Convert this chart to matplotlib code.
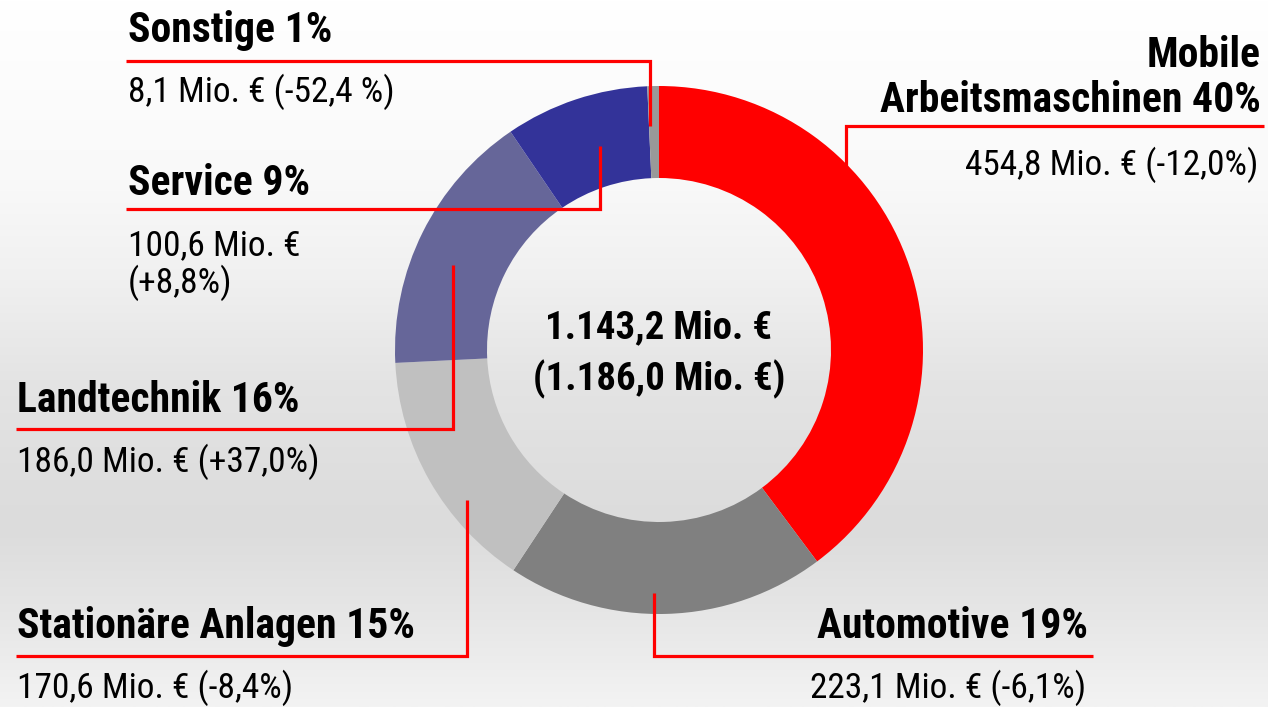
import numpy as np
import matplotlib
matplotlib.use("Agg")
import matplotlib.pyplot as plt
from matplotlib import font_manager

# segment data (clockwise from 12 o'clock)
segments = ["Mobile Arbeitsmaschinen", "Automotive", "Stationäre Anlagen",
            "Landtechnik", "Service", "Sonstige"]
umsatz = [454.8, 223.1, 170.6, 186.0, 100.6, 8.1]
anteil = ["40%", "19%", "15%", "16%", "9%", "1%"]
veraenderung = ["(-12,0%)", "(-6,1%)", "(-8,4%)", "(+37,0%)", "(+8,8%)", "(-52,4 %)"]
farben = ["#ff0000", "#808080", "#c0c0c0", "#666699", "#333399", "#999999"]
gesamt = "1.143,2 Mio. €"
vorjahr = "(1.186,0 Mio. €)"

W, H = 1268, 707

names = {f.name for f in font_manager.fontManager.ttflist}
if "Roboto Condensed" in names:
    fam = ["Roboto Condensed", "DejaVu Sans"]
    fs_b, fs_r, fs_c = 30, 25.5, 28
else:
    fam = [f for f in ["Liberation Sans", "DejaVu Sans"] if f in names]
    fs_b, fs_r, fs_c = 25, 22, 24
plt.rcParams["font.family"] = fam

fig = plt.figure(figsize=(W / 100, H / 100), dpi=100)
ax = fig.add_axes([0, 0, 1, 1])

# background gradient
ys = np.linspace(0, H, 400)
g = np.interp(ys, [0, 180, 280, 380, 480, 530, 613, H],
              [255, 249, 240, 228, 222, 220, 230, 243]) / 255
bg = np.repeat(g[:, None], 2, axis=1)
ax.imshow(np.dstack([bg, bg, bg]), extent=[0, W, 0, H], origin="upper",
          aspect="auto", zorder=0)

def Y(y):
    return H - y

cx, cy, r_out, ring = 659, 350, 264, 92
ax.pie(umsatz, colors=farben, startangle=90, counterclock=False,
       center=(cx, Y(cy)), radius=r_out,
       wedgeprops=dict(width=ring, linewidth=0), frame=False)

ax.set_xlim(0, W)
ax.set_ylim(0, H)
ax.set_aspect("auto")
ax.axis("off")

red = "#ff0000"
lw = 2.3
# leader lines (pixel coords)
leaders = [
    [(846, 167), (846, 126), (1264, 126)],   # Mobile
    [(654, 593), (654, 656), (1093, 656)],   # Automotive
    [(467, 500), (467, 656), (16, 656)],     # Stationaere
    [(453, 265), (453, 429), (16, 429)],     # Landtechnik
    [(600, 146), (600, 209), (126, 209)],    # Service
    [(650, 126), (650, 61), (126, 61)],      # Sonstige
]
for pts in leaders:
    xs = [p[0] for p in pts]
    yy = [Y(p[1]) for p in pts]
    ax.plot(xs, yy, color=red, lw=lw, solid_capstyle="butt",
            solid_joinstyle="miter", zorder=3)

def titel(i):
    return f"{segments[i]} {anteil[i]}"

def wert(i):
    return f"{umsatz[i]:.1f}".replace(".", ",") + " Mio. €"

# Mobile Arbeitsmaschinen (right, two-line title)
ax.text(1261, Y(67), "Mobile", ha="right", va="baseline", fontsize=fs_b, fontweight="bold")
ax.text(1261, Y(112), "Arbeitsmaschinen " + anteil[0], ha="right", va="baseline",
        fontsize=fs_b, fontweight="bold")
ax.text(1258, Y(175), wert(0) + " " + veraenderung[0], ha="right", va="baseline", fontsize=fs_r)

# Automotive
ax.text(1088, Y(638), titel(1), ha="right", va="baseline", fontsize=fs_b, fontweight="bold")
ax.text(1086, Y(698), wert(1) + " " + veraenderung[1], ha="right", va="baseline", fontsize=fs_r)

# Stationaere Anlagen
ax.text(17, Y(638), titel(2), ha="left", va="baseline", fontsize=fs_b, fontweight="bold")
ax.text(17, Y(698), wert(2) + " " + veraenderung[2], ha="left", va="baseline", fontsize=fs_r)

# Landtechnik
ax.text(17, Y(412), titel(3), ha="left", va="baseline", fontsize=fs_b, fontweight="bold")
ax.text(17, Y(472), wert(3) + " " + veraenderung[3], ha="left", va="baseline", fontsize=fs_r)

# Service
ax.text(128, Y(195), titel(4), ha="left", va="baseline", fontsize=fs_b, fontweight="bold")
ax.text(128, Y(255), wert(4), ha="left", va="baseline", fontsize=fs_r)
ax.text(128, Y(293), veraenderung[4], ha="left", va="baseline", fontsize=fs_r)

# Sonstige
ax.text(128, Y(42), titel(5), ha="left", va="baseline", fontsize=fs_b, fontweight="bold")
ax.text(128, Y(102), wert(5) + " " + veraenderung[5], ha="left", va="baseline", fontsize=fs_r)

# centre
ax.text(cx, Y(338), gesamt, ha="center", va="baseline", fontsize=fs_c, fontweight="bold")
ax.text(cx, Y(390), vorjahr, ha="center", va="baseline", fontsize=fs_c, fontweight="bold")

fig.savefig("out.png", dpi=100)
